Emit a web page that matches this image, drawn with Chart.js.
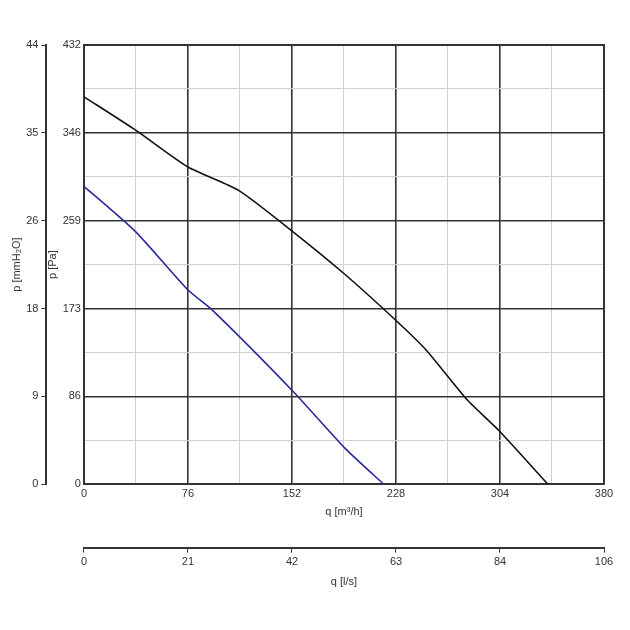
<!DOCTYPE html>
<html><head><meta charset="utf-8">
<script src="https://cdn.jsdelivr.net/npm/chart.js@4"></script>
<style>html,body{margin:0;background:#fff}#w{width:630px;height:630px}</style>
</head><body><div id="w"><canvas id="c"></canvas></div>
<script>
// q [m3/h] vs p [Pa]
const curveA_q = [0, 38, 76, 113, 153, 191, 228, 250, 280, 303, 339];
const curveA_p = [381, 348, 312, 289, 248, 206, 161, 132, 83, 53, 0];
const curveB_q = [0, 38, 76, 94, 153, 191, 219];
const curveB_p = [293, 248, 191, 171, 91, 35, 0];
const paTicks = ['0', '86', '173', '259', '346', '432'];
const mmTicks = ['0', '9', '18', '26', '35', '44'];
const m3hTicks = ['0', '76', '152', '228', '304', '380'];
const lsTicks = ['0', '21', '42', '63', '84', '106'];

const pts = (xs, ys) => xs.map((x, i) => ({ x, y: ys[i] }));
const font = { family: 'Arial, Liberation Sans', size: 11 };
const major = (i) => i % 2 === 0;
const gridColor = (c) => major(c.index) ? '#333' : '#d0d0d0';
const gridWidth = (c) => major(c.index) ? 1.6 : 1;

function evenTicks(max, n) {
  return (axis) => { axis.ticks = Array.from({ length: n }, (_, i) => ({ value: max * i / (n - 1) })); };
}

new Chart(document.getElementById('c'), {
  type: 'line',
  data: {
    datasets: [
      { data: pts(curveA_q, curveA_p), borderColor: '#111', borderWidth: 1.6, pointRadius: 0, tension: 0.2 },
      { data: pts(curveB_q, curveB_p), borderColor: '#2a2a9a', borderWidth: 1.6, pointRadius: 0, tension: 0.2 }
    ]
  },
  options: {
    responsive: true, maintainAspectRatio: false, animation: false,
    layout: { padding: { top: 45, right: 26, left: 10, bottom: 37 } },
    plugins: { legend: { display: false }, tooltip: { enabled: false } },
    scales: {
      x: {
        type: 'linear', min: 0, max: 380, weight: 0,
        afterBuildTicks: evenTicks(380, 11),
        ticks: { font, color: '#333', autoSkip: false, maxRotation: 0, callback: (v, i) => major(i) ? m3hTicks[i / 2] : '' },
        grid: { color: gridColor, lineWidth: gridWidth, drawTicks: false },
        border: { color: '#333', width: 2 },
        title: { display: true, text: 'q [m³/h]', font, color: '#333', padding: { top: 2, bottom: 29 } }
      },
      x2: {
        type: 'linear', position: 'bottom', min: 0, max: 105.6, weight: 1,
        afterBuildTicks: evenTicks(105.6, 6),
        ticks: { font, color: '#333', maxRotation: 0, autoSkip: false, callback: (v, i) => lsTicks[i] },
        grid: { drawOnChartArea: false, color: '#333', tickLength: 5 },
        border: { color: '#333', width: 2 },
        title: { display: true, text: 'q [l/s]', font, color: '#333' }
      },
      y: {
        position: 'left', min: 0, max: 432, weight: 0,
        afterBuildTicks: evenTicks(432, 11),
        ticks: { font, color: '#333', autoSkip: false, callback: (v, i) => major(i) ? paTicks[i / 2] : '' },
        grid: { color: gridColor, lineWidth: gridWidth, drawTicks: false },
        border: { color: '#333', width: 2 },
        title: { display: true, text: 'p [Pa]', font, color: '#333', padding: 0 }
      },
      y2: {
        position: 'left', min: 0, max: 44, weight: 1,
        afterBuildTicks: evenTicks(44, 6),
        ticks: { font, color: '#333', autoSkip: false, callback: (v, i) => mmTicks[i] },
        grid: { drawOnChartArea: false, color: '#333', tickLength: 5 },
        border: { color: '#333', width: 2 },
        title: { display: true, text: 'p [mmH₂O]', font, color: '#333', padding: 0 }
      }
    }
  },
  plugins: [{
    id: 'frame',
    afterDraw(chart) {
      const { ctx, chartArea: a } = chart;
      ctx.save(); ctx.strokeStyle = '#333'; ctx.lineWidth = 2;
      ctx.beginPath(); ctx.moveTo(a.left, a.top); ctx.lineTo(a.right, a.top); ctx.lineTo(a.right, a.bottom); ctx.stroke();
      ctx.restore();
    }
  }]
});
</script>
</body></html>
